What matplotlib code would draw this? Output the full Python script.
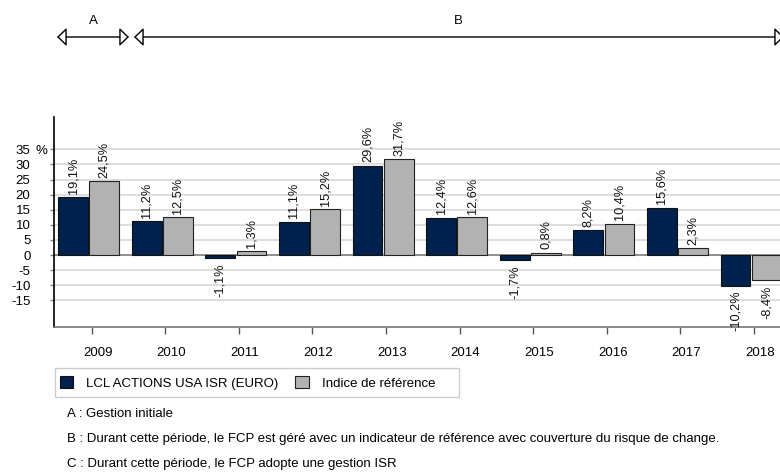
import matplotlib
matplotlib.use("Agg")
import matplotlib.pyplot as plt
import matplotlib.transforms as mtransforms
from matplotlib.patches import Patch, Rectangle, FancyArrowPatch
import numpy as np

plt.rcParams['font.family'] = ['Liberation Sans', 'DejaVu Sans']

years = ['2009', '2010', '2011', '2012', '2013', '2014', '2015', '2016', '2017', '2018']
fund = [19.1, 11.2, -1.1, 11.1, 29.6, 12.4, -1.7, 8.2, 15.6, -10.2]
index_ref = [24.5, 12.5, 1.3, 15.2, 31.7, 12.6, 0.8, 10.4, 2.3, -8.4]
yticks = [35, 30, 25, 20, 15, 10, 5, 0, -5, -10, -15]
series_names = ['LCL ACTIONS USA ISR (EURO)', 'Indice de référence']
periods = ['A', 'B']
notes = ['A : Gestion initiale',
         'B : Durant cette période, le FCP est géré avec un indicateur de référence avec couverture du risque de change.',
         'C : Durant cette période, le FCP adopte une gestion ISR']

DARK = '#00204e'
GRAY = '#b2b2b2'
W, H = 780, 472
fig = plt.figure(figsize=(W / 100, H / 100), dpi=100)

ax_left, ax_right = 54, 790
ax_top, ax_bot = 117.3, 327.3
ax = fig.add_axes([ax_left / W, 1 - ax_bot / H, (ax_right - ax_left) / W, (ax_bot - ax_top) / H])

x = np.arange(len(years))
bw = 0.405
off = 0.212
ax.bar(x - off, fund, bw, color=DARK, edgecolor='#111111', linewidth=0.8, zorder=3)
ax.bar(x + off, index_ref, bw, color=GRAY, edgecolor='#222222', linewidth=0.8, zorder=3)

ax.set_xlim(-0.471, 9.529)
ax.set_ylim(-23.9, 45.6)

for xs, vals in ((x - off, fund), (x + off, index_ref)):
    for xi, v in zip(xs, vals):
        s = f"{v:.1f}".replace('.', ',') + '%'
        if v >= 0:
            ax.annotate(s, (xi, v), xytext=(0, 2.5), textcoords='offset points',
                        rotation=90, ha='center', va='bottom', fontsize=9.2, color='#111111',
                        annotation_clip=False)
        else:
            ax.annotate(s, (xi, v), xytext=(0, -3.5), textcoords='offset points',
                        rotation=90, ha='center', va='top', fontsize=9.2, color='#111111',
                        annotation_clip=False)

for yv in yticks:
    ax.axhline(yv, color='#d4d4d4', lw=1.1, zorder=1)
ax.axhline(0, color='#7a7a7a', lw=1.1, zorder=2)

ax.set_yticks(yticks)
ax.set_yticklabels([str(v) for v in yticks], fontsize=9.5)
ax.tick_params(axis='y', length=3, color='#888888', pad=14, width=1)
ax.text(36 / W, 35, '%', transform=mtransforms.blended_transform_factory(fig.transFigure, ax.transData),
        fontsize=9.5, va='center_baseline', ha='left')

ax.set_xticks(x + 0.04)
ax.set_xticklabels(years, fontsize=9.5)
ax.tick_params(axis='x', length=5, color='#555555', pad=9, width=1)
shift = mtransforms.ScaledTranslation(6 / 100, 0, fig.dpi_scale_trans)
for lab in ax.get_xticklabels():
    lab.set_transform(lab.get_transform() + shift)

for s in ['top', 'right']:
    ax.spines[s].set_visible(False)
ax.spines['left'].set_color('black')
ax.spines['left'].set_linewidth(1.2)
ax.spines['bottom'].set_color('#777777')
ax.spines['bottom'].set_linewidth(1.2)

# period arrows
yarr = H - 37
arrows = [(57, 129), (134, 784)]
label_x = [93, 458]
for (xa, xb), lbl, lx in zip(arrows, periods, label_x):
    fig.add_artist(FancyArrowPatch(
        (xa, yarr), (xb, yarr), transform=None,
        arrowstyle='<|-|>,head_length=0.58,head_width=0.56', mutation_scale=10,
        fc='white', ec='black', lw=1, shrinkA=0, shrinkB=0))
    fig.text(lx / W, 1 - 20.7 / H, lbl, fontsize=9.5, ha='center', va='center')

# legend
fig.add_artist(Rectangle((55, H - 397.3), 459 - 55, 397.3 - 368.3, transform=None,
                         fc='white', ec='#cccccc', lw=1))
handles = [Patch(facecolor=DARK, edgecolor='#111111', lw=0.8),
           Patch(facecolor=GRAY, edgecolor='#222222', lw=0.8)]
leg = fig.legend(handles, series_names, loc='center left',
                 bbox_to_anchor=(55 / W, 1 - 382.8 / H), bbox_transform=fig.transFigure,
                 borderaxespad=0, fontsize=9.5, ncol=2, frameon=False,
                 handlelength=1.0, handleheight=1.0, handletextpad=1.0, columnspacing=1.3,
                 borderpad=0.35)

for yy, t in zip([414, 439, 464], notes):
    fig.text(67 / W, 1 - yy / H, t, fontsize=9.5, ha='left', va='center')

fig.savefig('out.png', dpi=100)
